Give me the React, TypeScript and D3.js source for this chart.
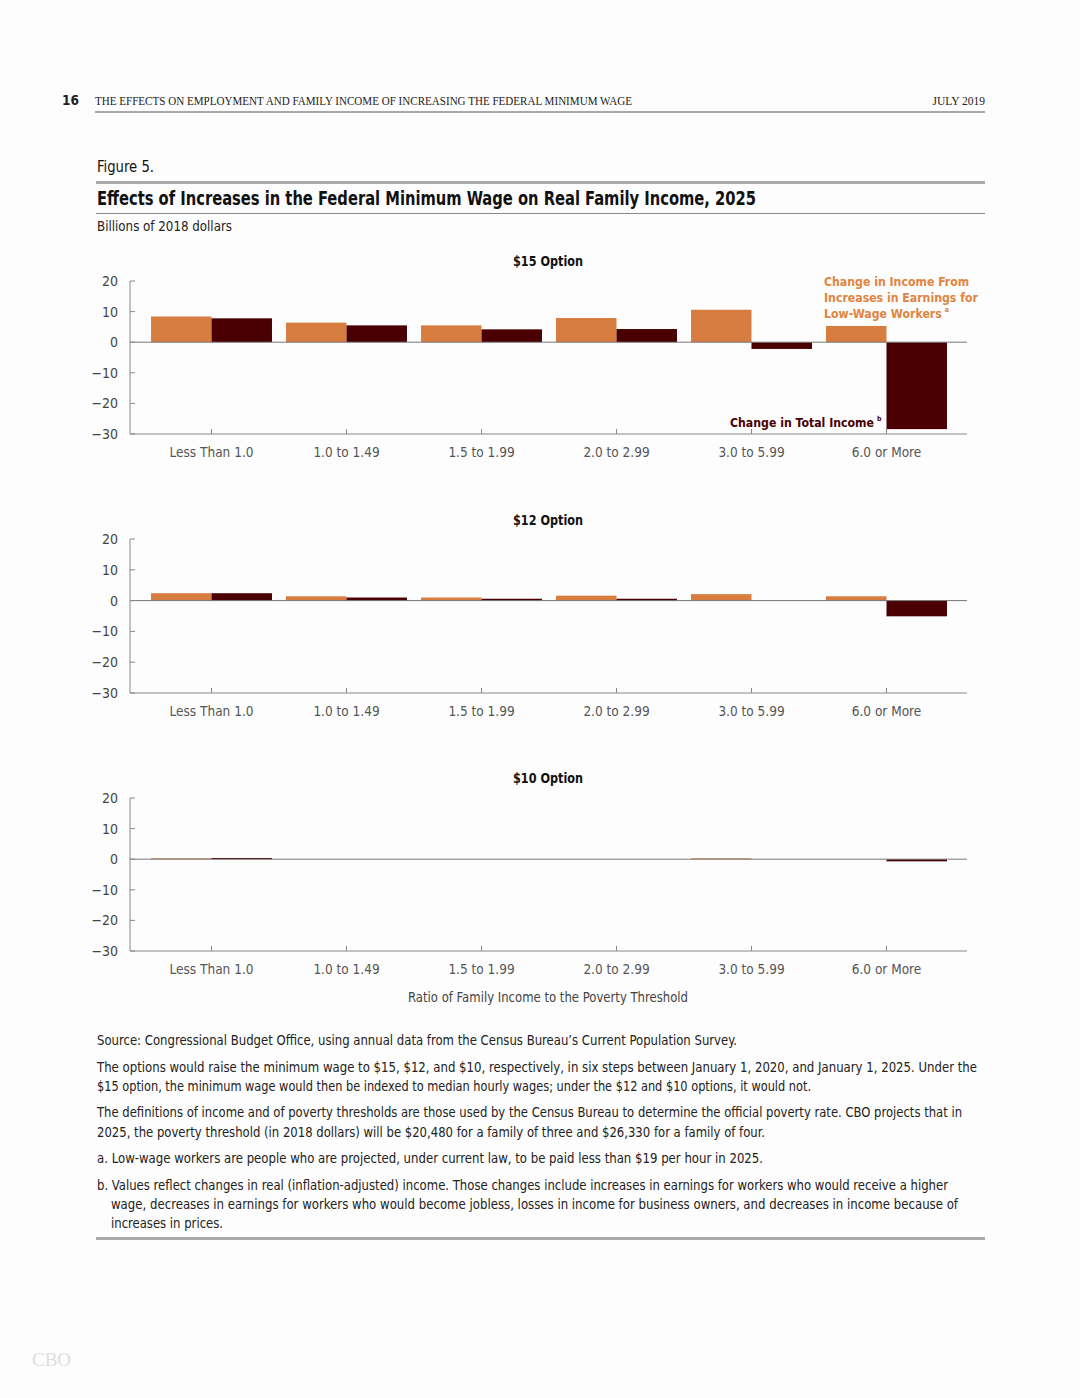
import React from "react";
import * as d3 from "d3";

const categories = ["Less Than 1.0", "1.0 to 1.49", "1.5 to 1.99", "2.0 to 2.99", "3.0 to 5.99", "6.0 or More"];
const seriesKeys = ["earnings", "total"];
const earnings15 = [8.4, 6.4, 5.5, 7.9, 10.6, 5.3];
const total15 = [7.8, 5.5, 4.2, 4.3, -2.2, -28.4];
const earnings12 = [2.4, 1.4, 1.0, 1.6, 2.1, 1.4];
const total12 = [2.4, 1.0, 0.6, 0.6, 0.0, -5.1];
const earnings10 = [0.3, 0.0, 0.0, 0.0, 0.3, 0.0];
const total10 = [0.4, 0.0, 0.0, 0.0, 0.0, -0.7];
const yTicks = [20, 10, 0, -10, -20, -30];
const panelTitles = ["$15 Option", "$12 Option", "$10 Option"];

const noteLines = [
  "Source: Congressional Budget Office, using annual data from the Census Bureau\u2019s Current Population Survey.",
  "The options would raise the minimum wage to $15, $12, and $10, respectively, in six steps between January 1, 2020, and January 1, 2025. Under the",
  "$15 option, the minimum wage would then be indexed to median hourly wages; under the $12 and $10 options, it would not.",
  "The definitions of income and of poverty thresholds are those used by the Census Bureau to determine the official poverty rate. CBO projects that in",
  "2025, the poverty threshold (in 2018 dollars) will be $20,480 for a family of three and $26,330 for a family of four.",
  "a. Low-wage workers are people who are projected, under current law, to be paid less than $19 per hour in 2025.",
  "b. Values reflect changes in real (inflation-adjusted) income. Those changes include increases in earnings for workers who would receive a higher",
  "wage, decreases in earnings for workers who would become jobless, losses in income for business owners, and decreases in income because of",
  "increases in prices.",
];
const noteLayout = [
  { x: 97, y: 1045, end: 737 },
  { x: 97, y: 1072, end: 977 },
  { x: 97, y: 1091, end: 811 },
  { x: 97, y: 1117, end: 962 },
  { x: 97, y: 1137, end: 765 },
  { x: 97, y: 1163, end: 763 },
  { x: 97, y: 1190, end: 948 },
  { x: 111, y: 1209, end: 958 },
  { x: 111, y: 1228, end: 223 },
];

const ORANGE = "#D87D40";
const DARK = "#4A0003";
const ORANGE_TEXT = "#E0843F";
const FONT = "'DejaVu Sans Condensed', 'DejaVu Sans', sans-serif";
const FONT_BOLD = "'DejaVu Sans Condensed', 'DejaVu Sans', sans-serif";

const panels = [
  { title: panelTitles[0], top: 281, bottom: 434, titleY: 266, earnings: earnings15, total: total15 },
  { title: panelTitles[1], top: 539, bottom: 693, titleY: 525, earnings: earnings12, total: total12 },
  { title: panelTitles[2], top: 798, bottom: 951, titleY: 783, earnings: earnings10, total: total10 },
];

const x = d3.scaleBand<string>().domain(categories).range([144, 954]).paddingInner(0.104).paddingOuter(0.052);
const xs = d3.scaleBand<string>().domain(seriesKeys).range([0, x.bandwidth()]);
const AX_LEFT = 130;
const AX_RIGHT = 967;

function Panel({ p, idx }: { p: typeof panels[0]; idx: number }) {
  const y = d3.scaleLinear().domain([-30, 20]).range([p.bottom, p.top]);
  const z = y(0);
  return (
    <g>
      <text x={513} y={p.titleY} fontFamily={FONT_BOLD} fontWeight="bold" fontSize={14.5} fill="#111" textLength={70} lengthAdjust="spacingAndGlyphs">
        {p.title}
      </text>
      {categories.map((c, i) => {
        const x0 = x(c)!;
        const vals = [p.earnings[i], p.total[i]];
        return seriesKeys.map((k, j) => {
          const v = vals[j];
          const y1 = Math.min(y(v), z);
          const h = Math.abs(y(v) - z);
          return (
            <rect key={c + k} x={x0 + xs(k)!} y={y1} width={xs.bandwidth()} height={h} fill={j === 0 ? ORANGE : DARK} />
          );
        });
      })}
      <line x1={AX_LEFT} x2={AX_RIGHT} y1={z} y2={z} stroke="#777" strokeWidth={1} />
      <line x1={AX_LEFT} x2={AX_LEFT} y1={p.top} y2={p.bottom} stroke="#888" strokeWidth={1} />
      <line x1={AX_LEFT} x2={AX_RIGHT} y1={p.bottom} y2={p.bottom} stroke="#888" strokeWidth={1} />
      {yTicks.map((t) => (
        <g key={t}>
          <line x1={AX_LEFT} x2={AX_LEFT + 5} y1={y(t)} y2={y(t)} stroke="#888" />
          <text x={118} y={y(t) + 5} textAnchor="end" fontFamily={FONT} fontSize={14} fill="#444">
            {t < 0 ? "\u2212" + Math.abs(t) : String(t)}
          </text>
        </g>
      ))}
      {categories.map((c) => {
        const cx = x(c)! + x.bandwidth() / 2;
        return (
          <g key={c}>
            <line x1={cx} x2={cx} y1={p.bottom} y2={p.bottom - 5} stroke="#888" />
            <text x={cx} y={p.bottom + 23} textAnchor="middle" fontFamily={FONT} fontSize={13.5} fill="#555">
              {c}
            </text>
          </g>
        );
      })}
      {idx === 0 && (
        <g fontFamily={FONT_BOLD} fontWeight="bold">
          <text x={824} y={286} fill={ORANGE_TEXT} fontSize={12.2}>Change in Income From</text>
          <text x={824} y={302} fill={ORANGE_TEXT} fontSize={12.2}>Increases in Earnings for</text>
          <text x={824} y={318} fill={ORANGE_TEXT} fontSize={12.2}>
            Low-Wage Workers<tspan fontSize={7} dx={3} dy={-6}>a</tspan>
          </text>
          <text x={730} y={427} fill={DARK} fontSize={12.2}>
            Change in Total Income<tspan fontSize={7} dx={3} dy={-6}>b</tspan>
          </text>
        </g>
      )}
    </g>
  );
}

export default function App() {
  return (
    <svg width={1080} height={1398} style={{ position: "absolute", left: 0, top: 0, background: "#fdfdfd" }}>
      <rect width={1080} height={1398} fill="#fdfdfd" />
      <text x={62} y={105} fontFamily="'DejaVu Sans', sans-serif" fontWeight="bold" fontSize={14} fill="#222" textLength={17} lengthAdjust="spacingAndGlyphs">16</text>
      <text x={95} y={105} fontFamily="'Liberation Serif', serif" fontSize={11.5} fill="#222" textLength={537} lengthAdjust="spacingAndGlyphs">
        THE EFFECTS ON EMPLOYMENT AND FAMILY INCOME OF INCREASING THE FEDERAL MINIMUM WAGE
      </text>
      <text x={985} y={105} textAnchor="end" fontFamily="'Liberation Serif', serif" fontSize={11.5} fill="#222">JULY 2019</text>
      <line x1={95} x2={985} y1={112} y2={112} stroke="#555" strokeWidth={1} />

      <text x={97} y={172} fontFamily={FONT} fontSize={15} fill="#111" textLength={57} lengthAdjust="spacingAndGlyphs">Figure 5.</text>
      <line x1={96} x2={985} y1={182.5} y2={182.5} stroke="#aaa" strokeWidth={3} />
      <text x={97} y={205} fontFamily={FONT_BOLD} fontWeight="bold" fontSize={20} fill="#111" textLength={659} lengthAdjust="spacingAndGlyphs">
        Effects of Increases in the Federal Minimum Wage on Real Family Income, 2025
      </text>
      <line x1={96} x2={985} y1={213.5} y2={213.5} stroke="#888" strokeWidth={1} />
      <text x={97} y={231} fontFamily={FONT} fontSize={14} fill="#222" textLength={135} lengthAdjust="spacingAndGlyphs">Billions of 2018 dollars</text>

      {panels.map((p, i) => (
        <Panel key={i} p={p} idx={i} />
      ))}

      <text x={408} y={1002} fontFamily={FONT} fontSize={14} fill="#444" textLength={280} lengthAdjust="spacingAndGlyphs">
        Ratio of Family Income to the Poverty Threshold
      </text>

      <g>
        {noteLines.map((s, i) => (
          <text key={i} x={noteLayout[i].x} y={noteLayout[i].y} fontFamily={FONT} fontSize={14} fill="#222"
            textLength={noteLayout[i].end - noteLayout[i].x} lengthAdjust="spacingAndGlyphs">
            {s}
          </text>
        ))}
      </g>
      <line x1={96} x2={985} y1={1238.5} y2={1238.5} stroke="#aaa" strokeWidth={3} />

      <text x={32} y={1366} fontFamily="'Liberation Serif', serif" fontSize={19} fill="#ddd">CBO</text>
    </svg>
  );
}
